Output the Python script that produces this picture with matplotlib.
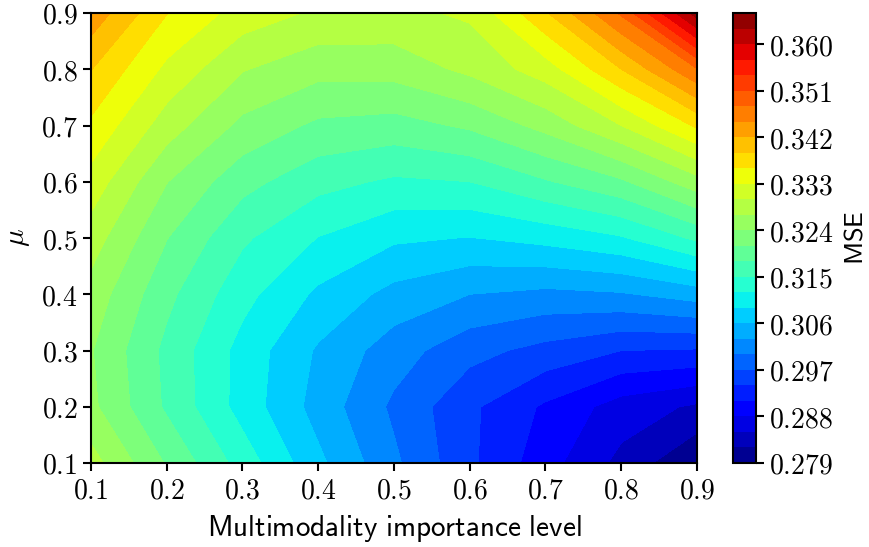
import matplotlib
matplotlib.use('Agg')
import matplotlib.pyplot as plt
import numpy as np

plt.rcParams['mathtext.fontset'] = 'cm'

# grid: multimodality importance level (x) and mu (y)
importance = [0.1, 0.2, 0.3, 0.4, 0.5, 0.6, 0.7, 0.8, 0.9]
mu = [0.1, 0.2, 0.3, 0.4, 0.5, 0.6, 0.7, 0.8, 0.9]

# MSE values, one row per mu (bottom to top)
mse = [
    [0.3282, 0.3207, 0.3137, 0.3067, 0.3006, 0.2946, 0.2892, 0.2841, 0.2791],
    [0.3247, 0.3175, 0.3108, 0.3048, 0.2994, 0.2946, 0.2905, 0.2866, 0.2845],
    [0.3242, 0.3172, 0.3109, 0.3056, 0.3014, 0.2980, 0.2960, 0.2940, 0.2937],
    [0.3258, 0.3188, 0.3130, 0.3084, 0.3050, 0.3030, 0.3022, 0.3027, 0.3044],
    [0.3285, 0.3211, 0.3155, 0.3119, 0.3095, 0.3089, 0.3100, 0.3117, 0.3156],
    [0.3318, 0.3241, 0.3190, 0.3160, 0.3145, 0.3150, 0.3177, 0.3205, 0.3258],
    [0.3354, 0.3285, 0.3232, 0.3204, 0.3198, 0.3215, 0.3250, 0.3300, 0.3365],
    [0.3391, 0.3323, 0.3272, 0.3250, 0.3252, 0.3277, 0.3315, 0.3390, 0.3478],
    [0.3440, 0.3361, 0.3317, 0.3295, 0.3292, 0.3305, 0.3387, 0.3485, 0.3645],
]

levels = np.linspace(0.279, 0.366, 30)
cbar_ticks = levels[:-2:3]

X, Y = np.meshgrid(importance, mu)
Z = np.array(mse)

fig = plt.figure(figsize=(8.7, 5.47), dpi=100)
ax = fig.add_axes([91/870, 84/547, 606/870, 450/547])
cax = fig.add_axes([733/870, 84/547, 23/870, 450/547])

cs = ax.contourf(X, Y, Z, levels=levels, cmap='jet')

ax.set_xticks(importance)
ax.set_yticks(mu)
ax.set_xticklabels(['$%.1f$' % v for v in importance])
ax.set_yticklabels(['$%.1f$' % v for v in mu])
ax.tick_params(labelsize=20, length=6, width=1.5)
for s in ax.spines.values():
    s.set_linewidth(1.5)
ax.set_xlabel(r'$\mathsf{Multimodality\ importance\ level}$', fontsize=21, labelpad=6)
ax.set_ylabel(r'$\mu$', fontsize=21, labelpad=6)

cb = fig.colorbar(cs, cax=cax, ticks=cbar_ticks)
cb.ax.set_yticklabels(['$%.3f$' % v for v in cbar_ticks])
cb.ax.tick_params(labelsize=20, length=6, width=1.5)
cb.outline.set_linewidth(1.5)
cb.set_label(r'$\mathsf{MSE}$', fontsize=19, labelpad=6)

fig.savefig('out.png', dpi=100)
